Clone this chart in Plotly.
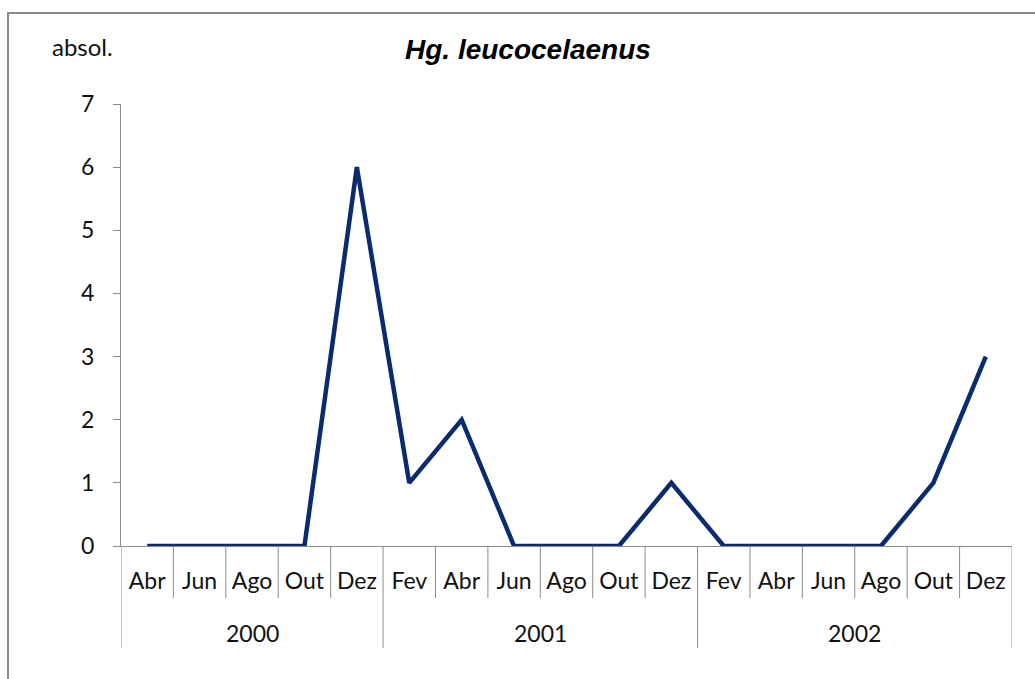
import plotly.graph_objects as go

years = ["2000", "2001", "2002"]
months_per_year = [
    ["Abr", "Jun", "Ago", "Out", "Dez"],
    ["Fev", "Abr", "Jun", "Ago", "Out", "Dez"],
    ["Fev", "Abr", "Jun", "Ago", "Out", "Dez"],
]
values = [0, 0, 0, 0, 6,
          1, 2, 0, 0, 0, 1,
          0, 0, 0, 0, 1, 3]
y_ticks = [0, 1, 2, 3, 4, 5, 6, 7]
title_text = "Hg. leucocelaenus"
y_label = "absol."

month_labels = [m for ms in months_per_year for m in ms]
xpos = list(range(len(month_labels)))

W, H = 1035, 679
L, R, T, B = 121, 23, 104, 133
pw, ph = W - L - R, H - T - B

def px_to_py(py):
    return (H - B - py) / ph

def px_to_px(px):
    return (px - L) / pw

GRAY = "#8c8c8c"
FONT = "Lato"
TXT = "#111111"

fig = go.Figure()
fig.add_trace(go.Scatter(
    x=xpos, y=values, mode="lines",
    line=dict(color="#0a2b6e", width=4.5),
    hoverinfo="skip", showlegend=False,
))

shapes = []
boundaries_year = {0}
acc = 0
for ms in months_per_year:
    acc += len(ms)
    boundaries_year.add(acc)
for i in range(len(month_labels) + 1):
    is_year = i in boundaries_year
    y_bottom = px_to_py(648) if is_year else px_to_py(598)
    shapes.append(dict(type="line", xref="x", yref="paper",
                       x0=i - 0.5, x1=i - 0.5, y0=0, y1=y_bottom,
                       line=dict(color=GRAY, width=1)))
# outer chart border
shapes.append(dict(type="rect", xref="paper", yref="paper",
                   x0=px_to_px(8), x1=px_to_px(1100),
                   y0=px_to_py(760), y1=px_to_py(13),
                   line=dict(color="#8a8a8a", width=2)))

annotations = []
start = 0
for yr, ms in zip(years, months_per_year):
    mid = start + (len(ms) - 1) / 2
    annotations.append(dict(x=mid, y=px_to_py(633), xref="x", yref="paper",
                            text=yr, showarrow=False,
                            font=dict(family=FONT, size=23, color=TXT),
                            xanchor="center", yanchor="middle"))
    start += len(ms)
annotations.append(dict(x=px_to_px(50), y=px_to_py(46), xref="paper", yref="paper",
                        text=y_label, showarrow=False,
                        font=dict(family=FONT, size=24, color=TXT),
                        xanchor="left", yanchor="middle"))
annotations.append(dict(x=px_to_px(528), y=px_to_py(50), xref="paper", yref="paper",
                        text="<b><i>" + title_text + "</i></b>", showarrow=False,
                        font=dict(family="Liberation Sans", size=28, color="#000"),
                        xanchor="center", yanchor="middle"))

fig.update_layout(
    width=W, height=H,
    margin=dict(l=L, r=R, t=T, b=B, autoexpand=False),
    paper_bgcolor="white", plot_bgcolor="white",
    shapes=shapes, annotations=annotations,
    xaxis=dict(range=[-0.5, len(month_labels) - 0.5],
               tickmode="array", tickvals=xpos, ticktext=month_labels,
               ticks="", showgrid=False, zeroline=False,
               showline=True, linecolor=GRAY, linewidth=1,
               tickfont=dict(family=FONT, size=23, color=TXT),
               ticklabelstandoff=14, fixedrange=True),
    yaxis=dict(range=[0, 7], tickmode="array", tickvals=y_ticks,
               ticks="outside", ticklen=7, tickcolor=GRAY, tickwidth=1,
               showgrid=False, zeroline=False,
               showline=True, linecolor=GRAY, linewidth=1,
               tickfont=dict(family=FONT, size=23, color=TXT),
               ticklabelstandoff=14, fixedrange=True),
)

fig.write_html("out.html",
               config={"displayModeBar": False, "staticPlot": True},
               post_script="document.body.style.margin='0';document.body.style.overflow='hidden';")
